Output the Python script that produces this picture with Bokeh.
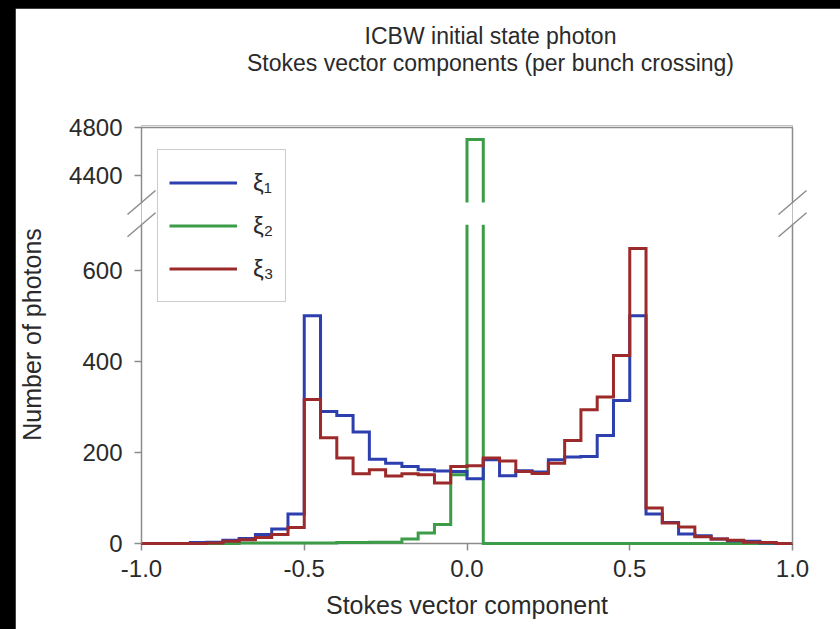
import math
from bokeh.plotting import figure
from bokeh.models import (Range1d, FixedTicker, CustomJSTickFormatter, PrintfTickFormatter,
                          Legend, LegendItem)
from bokeh.core.properties import value
from bokeh.embed import file_html
from bokeh.resources import INLINE

# ---------------- data ----------------
bin_edges = [round(-1.0 + 0.05 * i, 2) for i in range(41)]

xi1 = [0, 0, 0, 2, 3, 7, 11, 20, 32, 65,
       500, 290, 281, 245, 185, 176, 169, 162, 159, 158,
       142, 184, 149, 160, 157, 184, 190, 191, 237, 314,
       500, 65, 46, 21, 17, 10, 6, 5, 1, 0]
xi2 = [0, 0, 0, 0, 0, 0, 1, 1, 1, 1,
       1, 1, 2, 2, 3, 3, 10, 23, 42, 151,
       4700, 0, 0, 0, 0, 0, 0, 0, 0, 0,
       0, 0, 0, 0, 0, 0, 0, 0, 0, 0]
xi3 = [0, 0, 0, 0, 1, 5, 8, 13, 20, 35,
       316, 232, 188, 153, 162, 148, 153, 151, 133, 169,
       171, 188, 181, 158, 154, 176, 226, 294, 322, 413,
       648, 78, 45, 36, 15, 10, 7, 3, 2, 0]

series_labels = ["ξ₁", "ξ₂", "ξ₃"]
series_colors = ["#2d3fae", "#3c9c48", "#9c2a2a"]

x_ticks = [-1.0, -0.5, 0.0, 0.5, 1.0]
y_ticks_lower = [0, 200, 400, 600]
y_ticks_upper = [4400, 4800]

title_lines = ["ICBW initial state photon", "Stokes vector components (per bunch crossing)"]
x_label = "Stokes vector component"
y_label = "Number of photons"

# ---------------- broken-axis set-up ----------------
X_MIN, X_MAX = -1.0, 1.0
LOW_RANGE = (0.0, 918.0)        # lower panel scale (whole frame height)
UP_RANGE = (1333.3, 4816.7)     # upper panel scale (whole frame height)
BREAK_LOW = 700                 # lower panel is shown up to here
BREAK_UP = 4175                 # upper panel is shown from here
UP_TOP = 4800

FONT = "Liberation Sans"
TXT = "#2a2a2a"
GRID = "#8c8c8c"

W, H = 825, 621
ML, MR, MT, MB = 126, 48, 117, 86
frame_w = W - ML - MR
frame_h = H - MT - MB

p = figure(width=W, height=H, output_backend="svg", toolbar_location=None,
           x_range=Range1d(X_MIN, X_MAX), y_range=Range1d(*LOW_RANGE),
           min_border_left=ML, min_border_right=MR, min_border_top=MT, min_border_bottom=MB,
           background_fill_color="white", border_fill_color="white")
p.extra_y_ranges = {"upper": Range1d(*UP_RANGE)}
p.outline_line_color = None
p.xgrid.visible = False
p.ygrid.visible = False

L0, L1 = LOW_RANGE
U0, U1 = UP_RANGE
px_per_x = frame_w / (X_MAX - X_MIN)
px_per_low = frame_h / (L1 - L0)
px_per_up = frame_h / (U1 - U0)

# title: two centred lines above the frame (pixel offsets converted to the upper scale)
TITLE_CENTER_PX = 349              # from frame left
TITLE_BASELINE_PX = [90, 63]       # above frame top
title_x = [X_MIN + TITLE_CENTER_PX / px_per_x] * 2
title_y = [U1 + d / px_per_up for d in TITLE_BASELINE_PX]
p.text(x=title_x, y=title_y, text=title_lines, text_align="center", text_baseline="alphabetic",
       text_font=value(FONT), text_font_size=value("23px"), text_color=TXT,
       level="overlay", y_range_name="upper")

# x axis
xa = p.xaxis[0]
xa.ticker = FixedTicker(ticks=x_ticks)
xa.formatter = PrintfTickFormatter(format="%.1f")
xa.axis_label = x_label
for ax in (xa, p.yaxis[0]):
    ax.axis_label_text_font = FONT
    ax.axis_label_text_font_size = "25px"
    ax.axis_label_text_font_style = "normal"
    ax.axis_label_text_color = TXT
    ax.major_label_text_font = FONT
    ax.major_label_text_font_size = "24px"
    ax.major_label_text_color = TXT
    ax.major_tick_line_color = GRID
    ax.major_tick_line_width = 1.5
    ax.major_tick_out = 7
    ax.major_tick_in = 0
    ax.minor_tick_line_color = None
xa.axis_line_color = GRID
xa.axis_line_width = 1.5
xa.major_label_standoff = 9
xa.axis_label_standoff = 11

# y axis (one axis, labels for both panels)
def up_to_low(u):
    return L0 + (u - U0) * (L1 - L0) / (U1 - U0)

ya = p.yaxis[0]
ya.axis_label = y_label
ya.axis_line_color = None
ya.ticker = FixedTicker(ticks=y_ticks_lower + [up_to_low(u) for u in y_ticks_upper])
ya.formatter = CustomJSTickFormatter(
    args=dict(l0=L0, l1=L1, u0=U0, u1=U1, brk=BREAK_LOW),
    code="""
    if (tick > brk) { return ((tick - l0) * (u1 - u0) / (l1 - l0) + u0).toFixed(0); }
    return tick.toFixed(0);
    """)
ya.major_label_standoff = 12
ya.axis_label_standoff = 20

# ---------------- histogram outlines ----------------
def step_points(edges, vals):
    xs, ys = [edges[0]], [vals[0]]
    for i in range(len(vals)):
        xs.append(edges[i + 1]); ys.append(vals[i])
        if i + 1 < len(vals):
            xs.append(edges[i + 1]); ys.append(vals[i + 1])
    return xs, ys

def clip_y(xs, ys, lo, hi):
    pieces = []
    cur = None
    for k in range(len(xs) - 1):
        x0, y0, x1, y1 = xs[k], ys[k], xs[k + 1], ys[k + 1]
        if y0 == y1:
            seg = ((x0, y0), (x1, y1)) if lo <= y0 <= hi else None
        else:
            a, b = min(y0, y1), max(y0, y1)
            ca, cb = max(a, lo), min(b, hi)
            if ca > cb:
                seg = None
            elif y0 < y1:
                seg = ((x0, ca), (x1, cb))
            else:
                seg = ((x0, cb), (x1, ca))
        if seg is None:
            cur = None
            continue
        if cur is not None and cur[-1] == seg[0]:
            cur.append(seg[1])
        else:
            cur = [seg[0], seg[1]]
            pieces.append(cur)
    return [[q[0] for q in c] for c in pieces], [[q[1] for q in c] for c in pieces]

order = [1, 0, 2]   # green underneath, then blue, red on top
renderers = {}
all_series = [xi1, xi2, xi3]
for i in order:
    sx, sy = step_points(bin_edges, all_series[i])
    lx, ly = clip_y(sx, sy, -math.inf, BREAK_LOW)
    r = p.multi_line(xs=lx, ys=ly, line_color=series_colors[i], line_width=3,
                     line_join="miter", level="overlay")
    renderers[i] = r
    ux, uy = clip_y(sx, sy, BREAK_UP, math.inf)
    if ux:
        p.multi_line(xs=ux, ys=uy, line_color=series_colors[i], line_width=3,
                     line_join="miter", level="overlay", y_range_name="upper")

# ---------------- frame with breaks ----------------
BDX, BDY = 14, 12   # half size of break marks, in pixels
dx = BDX / px_per_x

p.segment(x0=[X_MIN, X_MAX], y0=[L0, L0], x1=[X_MIN, X_MAX], y1=[BREAK_LOW, BREAK_LOW],
          line_color=GRID, line_width=1.5, level="overlay")
p.segment(x0=[X_MIN, X_MAX, X_MIN], y0=[BREAK_UP, BREAK_UP, UP_TOP],
          x1=[X_MIN, X_MAX, X_MAX], y1=[UP_TOP, UP_TOP, UP_TOP],
          line_color=GRID, line_width=1.5, level="overlay", y_range_name="upper")
dyl = BDY / px_per_low
dyu = BDY / px_per_up
p.segment(x0=[X_MIN - dx, X_MAX - dx], y0=[BREAK_LOW - dyl] * 2,
          x1=[X_MIN + dx, X_MAX + dx], y1=[BREAK_LOW + dyl] * 2,
          line_color=GRID, line_width=1.5, level="overlay")
p.segment(x0=[X_MIN - dx, X_MAX - dx], y0=[BREAK_UP - dyu] * 2,
          x1=[X_MIN + dx, X_MAX + dx], y1=[BREAK_UP + dyu] * 2,
          line_color=GRID, line_width=1.5, level="overlay", y_range_name="upper")

# ---------------- legend ----------------
legend = Legend(items=[LegendItem(label=series_labels[i], renderers=[renderers[i]]) for i in range(3)],
                location=(16, 241), margin=0, padding=11, spacing=0,
                glyph_width=68, glyph_height=43, label_height=43, label_standoff=16,
                label_text_font=FONT, label_text_font_size="24px", label_text_color=TXT,
                border_line_color="#999999", border_line_width=1.5,
                background_fill_color="white", background_fill_alpha=1.0)
p.add_layout(legend, "center")

html = file_html(p, INLINE)
html = html.replace("</head>",
                    "<style>html,body{margin:0;padding:0;background:#000;overflow:hidden}"
                    "body{padding:8px 0 0 15px}</style></head>", 1)
open("out.html", "w").write(html)
